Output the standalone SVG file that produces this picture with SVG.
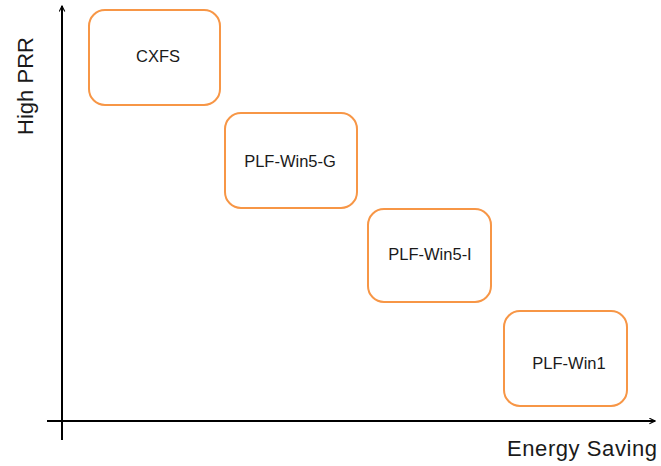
<svg xmlns="http://www.w3.org/2000/svg" width="661" height="466" viewBox="0 0 661 466">
<defs>
<marker id="arr" viewBox="0 0 10 10" refX="9" refY="5" markerWidth="7" markerHeight="7" markerUnits="userSpaceOnUse" orient="auto">
<path d="M1,1 L9,5 L1,9" fill="none" stroke="#000" stroke-width="1.6"/>
</marker>
<style>
.box{fill:#fff;stroke:#F79646;stroke-width:2}
.lbl{font-family:"Liberation Sans",Arial,sans-serif;font-size:16.5px;fill:#1a1a1a;text-anchor:middle}
.ax{font-family:"Liberation Sans",Arial,sans-serif;font-size:22px;fill:#1a1a1a}
.axis{stroke:#000;stroke-width:2;fill:none}
</style>
</defs>
<rect width="661" height="466" fill="#fff"/>
<g id="connectors">
<line class="axis" x1="62" y1="440" x2="62" y2="6" marker-end="url(#arr)"/>
<line class="axis" x1="47" y1="421" x2="655" y2="421" marker-end="url(#arr)"/>
</g>
<g id="cxfs"><rect class="box" x="89" y="10" width="131" height="95" rx="16"/><text class="lbl" x="158" y="62">CXFS</text></g>
<g id="win5g"><rect class="box" x="225" y="113" width="132" height="95" rx="16"/><text class="lbl" x="290" y="167">PLF-Win5-G</text></g>
<g id="win5i"><rect class="box" x="368" y="209" width="123" height="93" rx="16"/><text class="lbl" x="430" y="260">PLF-Win5-I</text></g>
<g id="win1"><rect class="box" x="504" y="311" width="123" height="95" rx="16"/><text class="lbl" x="569" y="369">PLF-Win1</text></g>
<text class="ax" x="507" y="456" textLength="150" lengthAdjust="spacing">Energy Saving</text>
<text class="ax" transform="translate(33,86) rotate(-90)" text-anchor="middle">High PRR</text>
</svg>
